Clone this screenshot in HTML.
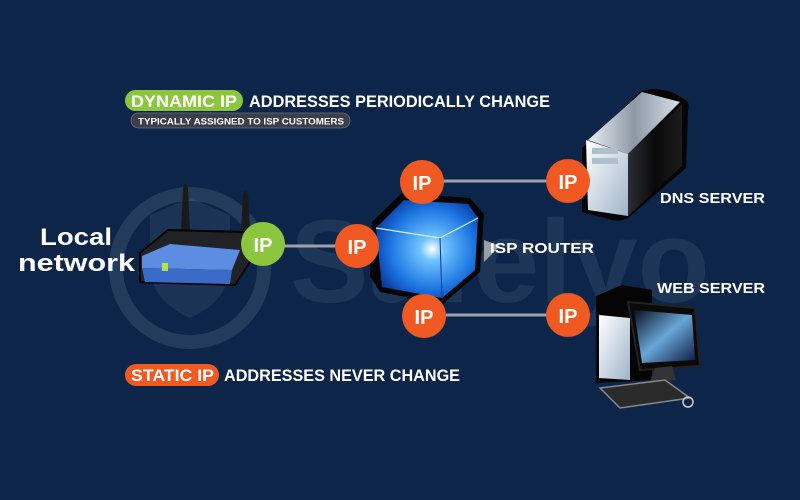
<!DOCTYPE html>
<html><head><meta charset="utf-8"><style>
html,body{margin:0;padding:0;background:#0c2548;}
svg{display:block;}
text{font-family:"Liberation Sans",sans-serif;font-weight:bold;}
</style></head><body>
<svg width="800" height="500" viewBox="0 0 800 500" xmlns="http://www.w3.org/2000/svg">
<defs>
<radialGradient id="cube" cx="0.55" cy="0.5" r="0.6">
<stop offset="0" stop-color="#ffffff"/><stop offset="0.2" stop-color="#6fc3ff"/><stop offset="0.7" stop-color="#1a73e0"/><stop offset="1" stop-color="#0a3aa0"/></radialGradient>
<linearGradient id="srv" x1="0" y1="0" x2="1" y2="1"><stop offset="0" stop-color="#ffffff"/><stop offset="1" stop-color="#9fb4c8"/></linearGradient>
<linearGradient id="side" x1="0" y1="0" x2="1" y2="0"><stop offset="0" stop-color="#2a2d33"/><stop offset="0.5" stop-color="#0a0a0a"/><stop offset="1" stop-color="#1c1c1c"/></linearGradient>
<linearGradient id="top" x1="0" y1="0" x2="1" y2="0"><stop offset="0" stop-color="#e8eef4"/><stop offset="0.5" stop-color="#8e98a4"/><stop offset="1" stop-color="#d8e0e8"/></linearGradient>
<linearGradient id="scr" x1="0" y1="0" x2="1" y2="1"><stop offset="0" stop-color="#0a0f20"/><stop offset="0.5" stop-color="#6aa6d8"/><stop offset="1" stop-color="#0a1a40"/></linearGradient>
</defs>
<rect width="800" height="500" fill="#0c2548"/>
<g opacity="0.13" fill="none" stroke="#c8d6ea" stroke-width="14">
<circle cx="190" cy="268" r="74"/>
</g>
<path d="M150 215 L190 198 L230 215 L230 265 Q230 300 190 318 Q150 300 150 265 Z" fill="#c8d6ea" opacity="0.08"/>
<text x="290" y="302" font-size="118" fill="#c8d6ea" opacity="0.09" font-weight="bold">Safelyo</text>

<rect x="125" y="90" width="118" height="21" rx="10.5" fill="#8cc63f"/>
<text x="131" y="107" font-size="16.5" fill="#fff" textLength="106" lengthAdjust="spacingAndGlyphs">DYNAMIC IP</text>
<text x="249" y="107" font-size="16.5" fill="#fff" textLength="301" lengthAdjust="spacingAndGlyphs">ADDRESSES PERIODICALLY CHANGE</text>
<rect x="131" y="113" width="219" height="15" rx="7.5" fill="#3a3f4a" stroke="#6b7080" stroke-width="0.8"/>
<text x="138" y="124.5" font-size="9.6" fill="#fff" textLength="206" lengthAdjust="spacingAndGlyphs">TYPICALLY ASSIGNED TO ISP CUSTOMERS</text>

<text x="40" y="245" font-size="24" fill="#fff" textLength="72" lengthAdjust="spacingAndGlyphs">Local</text>
<text x="18" y="271" font-size="24" fill="#fff" textLength="117" lengthAdjust="spacingAndGlyphs">network</text>

<path d="M181 232 L183 188 Q185 180 188 188 L190 232 Z" fill="#1a1a1a"/>
<path d="M241 230 L243 195 Q245 187 248 195 L250 230 Z" fill="#1a1a1a"/>
<path d="M140 253 L168 230 L245 232 L250 262 L235 285 L140 282 Z" fill="#202226" stroke="#000" stroke-width="2"/>
<path d="M142 256 L170 244 L240 250 L232 270 L142 268 Z" fill="#5c8de0"/>
<path d="M142 268 L232 270 L230 284 L145 282 Z" fill="#3b6bc8"/>
<rect x="162" y="263" width="6" height="8" fill="#b8e33a"/>

<g stroke="#9ca3ad" stroke-width="3">
<line x1="284" y1="246" x2="340" y2="246"/>
<line x1="444" y1="181" x2="548" y2="181"/>
<line x1="446" y1="315" x2="548" y2="315"/>
</g>

<path d="M372 222 L402 193 L470 198 L484 214 L480 272 L443 304 L380 292 L370 276 Z" fill="#050505"/>
<path d="M376 228 L404 200 L468 204 L478 218 L475 270 L442 298 L382 287 Z" fill="url(#cube)"/>
<path d="M376 228 L440 238 L478 218" fill="none" stroke="#d8f0ff" stroke-width="1.2"/>
<path d="M440 238 L442 298" stroke="#0a3a8a" stroke-width="1"/>
<path d="M484 240 L500 246 L484 262 Z" fill="#9aa0a8"/>

<!-- DNS server -->
<path d="M582 148 L640 92 Q650 86 672 92 L686 100 Q690 104 688 110 L686 168 L628 218 Q620 222 612 220 L582 212 Z" fill="#050505"/>
<path d="M588 140 L642 92 L680 102 L628 154 Z" fill="url(#top)"/>
<path d="M586 140 L628 154 L628 216 L588 210 Z" fill="url(#srv)"/>
<path d="M628 154 L682 104 L682 166 L628 216 Z" fill="url(#side)"/>
<rect x="592" y="148" width="26" height="6" fill="#b0bfcc"/>
<rect x="592" y="158" width="26" height="6" fill="#b0bfcc"/>

<!-- web server -->
<path d="M596 296 L622 285 L652 290 L652 380 L596 383 Z" fill="#050505"/>
<path d="M599 315 L630 318 L630 380 L599 378 Z" fill="url(#srv)"/>
<path d="M628 302 L695 308 L700 366 L640 370 Z" fill="#0a0a0a" stroke="#222" stroke-width="2"/>
<path d="M634 310 L692 315 L695 360 L642 363 Z" fill="url(#scr)"/>
<path d="M655 368 L672 366 L676 380 L650 382 Z" fill="#333"/>
<path d="M600 388 L665 380 L690 398 L620 408 Z" fill="#2a2a2a" stroke="#888" stroke-width="1.5"/>
<circle cx="688" cy="402" r="5" fill="none" stroke="#ccc" stroke-width="1.5"/>

<g font-size="20" fill="#fff" text-anchor="middle">
<circle cx="263" cy="244" r="22" fill="#8cc63f"/><text x="263" y="252">IP</text>
<circle cx="357" cy="246" r="22" fill="#f05a22"/><text x="357" y="254">IP</text>
<circle cx="422" cy="182" r="22" fill="#f05a22"/><text x="422" y="190">IP</text>
<circle cx="424" cy="316" r="22" fill="#f05a22"/><text x="424" y="324">IP</text>
<circle cx="568" cy="181" r="22" fill="#f05a22"/><text x="568" y="189">IP</text>
<circle cx="568" cy="315" r="22" fill="#f05a22"/><text x="568" y="323">IP</text>
</g>

<text x="660" y="203" font-size="15" fill="#fff" textLength="105" lengthAdjust="spacingAndGlyphs">DNS SERVER</text>
<text x="490" y="253" font-size="15" fill="#fff" textLength="104" lengthAdjust="spacingAndGlyphs">ISP ROUTER</text>
<text x="657" y="293" font-size="15" fill="#fff" textLength="108" lengthAdjust="spacingAndGlyphs">WEB SERVER</text>

<rect x="125" y="364" width="94" height="22" rx="11" fill="#f05a22"/>
<text x="131" y="381" font-size="16.5" fill="#fff" textLength="83" lengthAdjust="spacingAndGlyphs">STATIC IP</text>
<text x="224" y="381" font-size="16.5" fill="#fff" textLength="236" lengthAdjust="spacingAndGlyphs">ADDRESSES NEVER CHANGE</text>
</svg>
</body></html>
